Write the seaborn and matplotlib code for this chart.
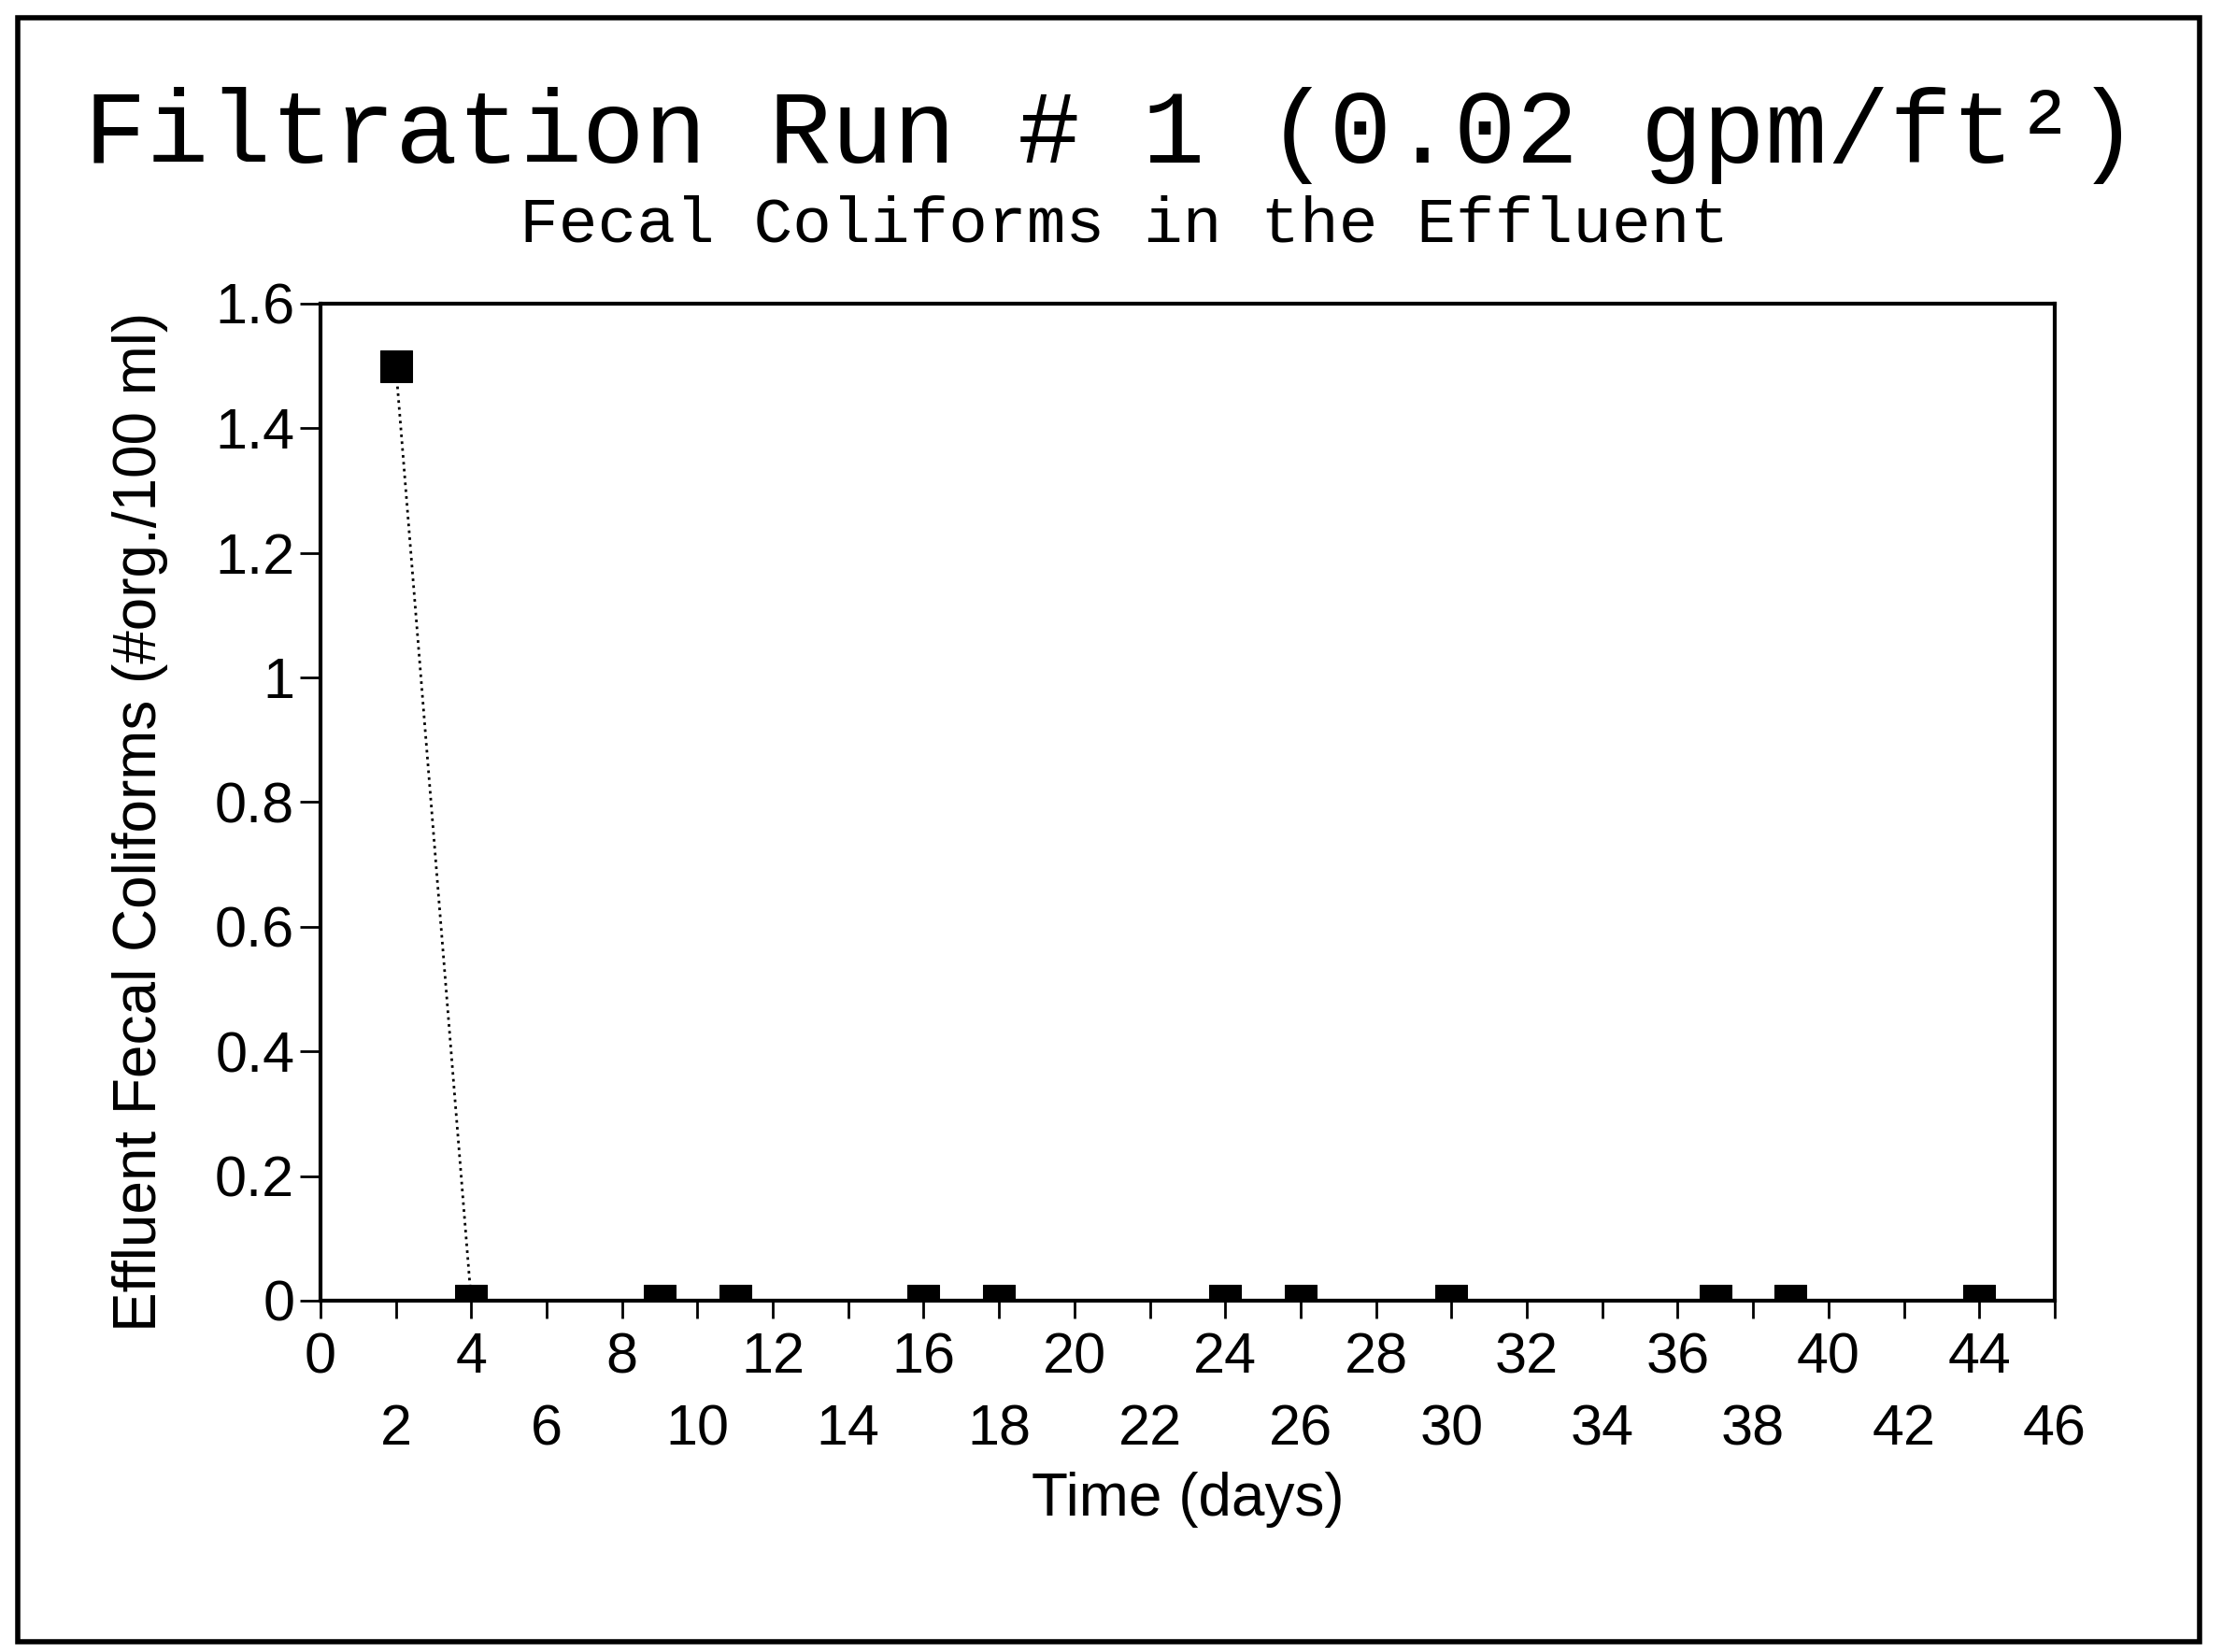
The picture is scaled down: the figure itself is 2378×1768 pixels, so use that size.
import matplotlib
matplotlib.use("Agg")
import matplotlib.pyplot as plt
import seaborn as sns
from matplotlib.patches import Rectangle

# data
days = [2, 4, 9, 11, 16, 18, 24, 26, 30, 37, 39, 44]
coliforms = [1.5, 0, 0, 0, 0, 0, 0, 0, 0, 0, 0, 0]
x_ticks = list(range(0, 47, 2))
y_ticks = [0, 0.2, 0.4, 0.6, 0.8, 1, 1.2, 1.4, 1.6]
y_tick_labels = ['0', '0.2', '0.4', '0.6', '0.8', '1', '1.2', '1.4', '1.6']

sns.set_style('ticks')
plt.rcParams['font.family'] = ['Liberation Sans', 'DejaVu Sans']
plt.rcParams['text.color'] = 'black'
plt.rcParams['axes.labelcolor'] = 'black'
plt.rcParams['xtick.color'] = 'black'
plt.rcParams['ytick.color'] = 'black'

fig = plt.figure(figsize=(23.78, 17.68), dpi=100)
ax = fig.add_axes([0.1442, 0.2127, 0.9247 - 0.1442, 0.8162 - 0.2127])

sns.lineplot(x=days, y=coliforms, ax=ax, color='black', linestyle=':', linewidth=2,
             marker='s', markersize=25, markeredgecolor='black', markerfacecolor='black')

ax.set_xlim(0, 46)
ax.set_ylim(0, 1.6)

# staggered x labels: every second label on a lower row
ax.set_xticks(x_ticks)
ax.set_xticklabels([str(v) if (v // 2) % 2 == 0 else '\n' + str(v) for v in x_ticks],
                   fontsize=44, linespacing=1.45)
ax.set_yticks(y_ticks)
ax.set_yticklabels(y_tick_labels, fontsize=44)
ax.tick_params(axis='x', length=14, width=2, pad=10, direction='out')
ax.tick_params(axis='y', length=16, width=2, pad=4, direction='out')

for side in ['top', 'right', 'left', 'bottom']:
    ax.spines[side].set_visible(True)
    ax.spines[side].set_linewidth(3)
    ax.spines[side].set_color('black')

ax.set_xlabel('Time (days)', fontsize=46)
ax.set_ylabel('Effluent Fecal Coliforms (#org./100 ml)', fontsize=46)
ax.xaxis.set_label_coords(0.5, -0.172)
ax.yaxis.set_label_coords(-0.088, 0.48)

fig.text(0.5, 0.918, 'Filtration Run # 1 (0.02 gpm/ft²)', ha='center', va='center',
         fontsize=80, family=['Liberation Mono', 'DejaVu Sans Mono'])
fig.text(0.506, 0.864, 'Fecal Coliforms in the Effluent', ha='center', va='center',
         fontsize=50, family=['Liberation Mono', 'DejaVu Sans Mono'])

# frame around the whole figure, as on the scanned page
fig.patches.append(Rectangle((0.008, 0.006), 0.982, 0.983, transform=fig.transFigure,
                             fill=False, edgecolor='black', linewidth=4))

fig.savefig('out.png', dpi=100, facecolor='white')
